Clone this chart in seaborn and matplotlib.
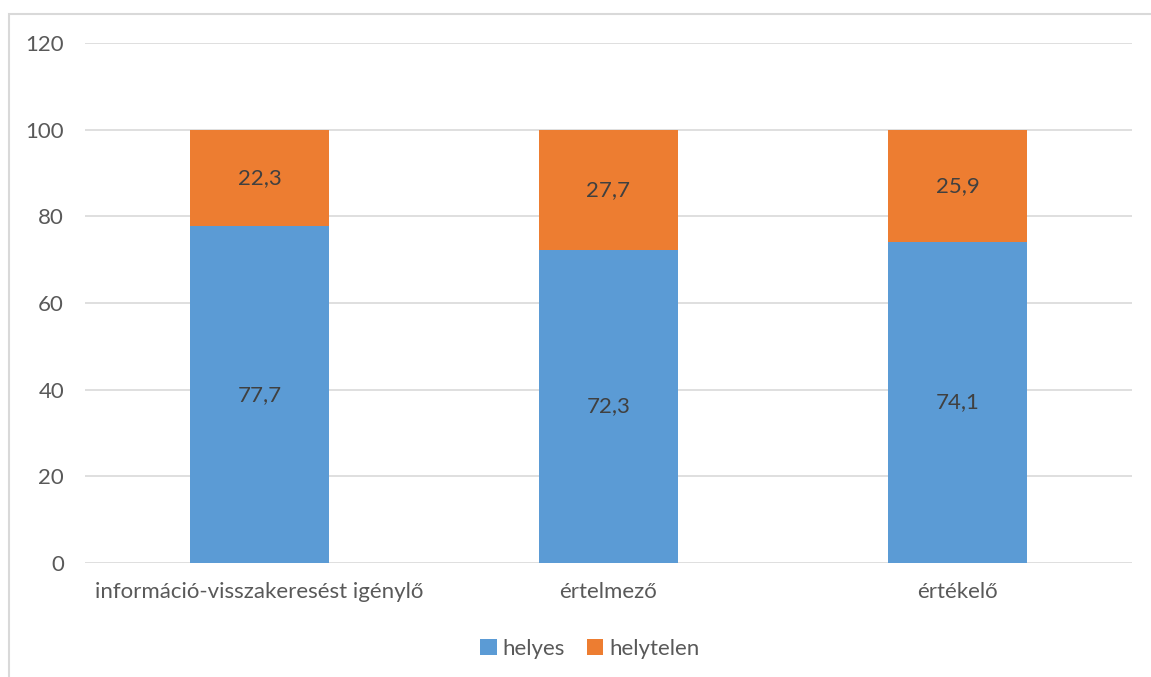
import matplotlib.pyplot as plt
import seaborn as sns
import pandas as pd
from matplotlib.patches import Rectangle

# --- data ---
categories = ['információ-visszakeresést igénylő', 'értelmező', 'értékelő']
helyes = [77.7, 72.3, 74.1]
helytelen = [22.3, 27.7, 25.9]

blue = '#5B9BD5'
orange = '#ED7D31'
gray_text = '#595959'

sns.set_style('white')
plt.rcParams['font.family'] = ['Lato', 'DejaVu Sans']

df = pd.DataFrame({'kat': categories, 'helyes': helyes, 'helytelen': helytelen})

fig = plt.figure(figsize=(11.51, 6.77), dpi=100)
ax = fig.add_axes([0.0738, 0.1684, 0.9097, 0.7681])

sns.barplot(data=df, x='kat', y='helyes', color=blue, width=0.4, ax=ax,
            saturation=1, label='helyes', zorder=3, linewidth=0)
sns.barplot(data=df, x='kat', y='helytelen', color=orange, width=0.4, ax=ax,
            saturation=1, bottom=df['helyes'], label='helytelen', zorder=3,
            linewidth=0)

for cont in ax.containers:
    ax.bar_label(cont, labels=[f'{v:.1f}'.replace('.', ',') for v in cont.datavalues],
                 label_type='center', color='#404040', fontsize=16)

ax.set_ylim(0, 120)
ax.set_xlim(-0.5, 2.5)
ax.set_yticks(range(0, 121, 20))
ax.yaxis.grid(True, color='#D9D9D9', linewidth=1.2, zorder=0)
ax.set_axisbelow(True)
for s in ax.spines.values():
    s.set_visible(False)
ax.set_xlabel('')
ax.set_ylabel('')
ax.tick_params(axis='both', length=0, labelsize=16, labelcolor=gray_text)
ax.tick_params(axis='y', pad=15)
ax.tick_params(axis='x', pad=14)

ax.legend(loc='center', bbox_to_anchor=(0.482, -0.165), ncol=2, frameon=False,
          fontsize=16, labelcolor=gray_text, handlelength=0.75, handleheight=0.75,
          handletextpad=0.25, columnspacing=1.0)

# chart area border (clipped at the right and bottom like the source)
fig.patches.append(Rectangle((9 / 1151, -0.1), 1.2, 1 - 14 / 677 + 0.1,
                             transform=fig.transFigure, fill=False,
                             edgecolor='#D9D9D9', linewidth=1.5))

fig.savefig('out.png', dpi=100)
